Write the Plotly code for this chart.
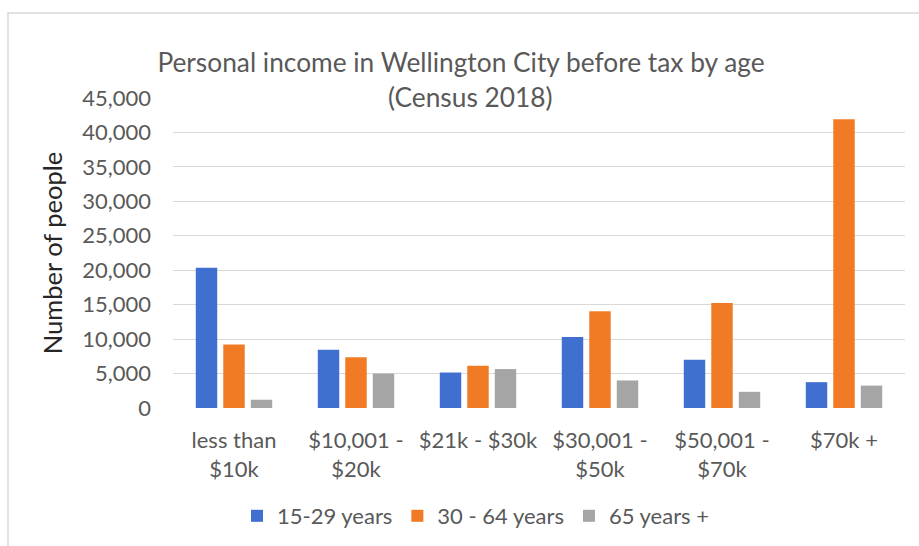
import plotly.graph_objects as go

categories = ["less than $10k", "$10,001 - $20k", "$21k - $30k", "$30,001 - $50k", "$50,001 - $70k", "$70k +"]
tick_labels = ["less than<br>$10k", "$10,001 -<br>$20k", "$21k - $30k", "$30,001 -<br>$50k", "$50,001 -<br>$70k", "$70k +"]
series_names = ["15-29 years", "30 - 64 years", "65 years +"]
age_15_29 = [20350, 8450, 5150, 10300, 7000, 3750]
age_30_64 = [9200, 7350, 6150, 14050, 15250, 41900]
age_65_plus = [1200, 5000, 5650, 4000, 2350, 3250]
colors = ["#3F6FCF", "#F07B24", "#A5A5A5"]

FONT = "Lato"
GRAY = "#595959"

fig = go.Figure()
for name, vals, col in zip(series_names, [age_15_29, age_30_64, age_65_plus], colors):
    fig.add_trace(go.Bar(name=name, x=categories, y=vals, marker=dict(color=col, line=dict(width=0))))

W, H = 919, 546
ml, mr, mt, mb = 173, 14, 98, 138
pw = W - ml - mr
ph = H - mt - mb

fig.update_layout(
    width=W, height=H,
    margin=dict(l=ml, r=mr, t=mt, b=mb, autoexpand=False),
    paper_bgcolor="white", plot_bgcolor="white",
    barmode="group", bargap=0.324, bargroupgap=0.22,
    font=dict(family=FONT, color=GRAY, size=22),
    title=dict(
        text="Personal income in Wellington City before tax by age",
        x=461 / W, xref="container", xanchor="center",
        y=1 - 63 / H, yref="container", yanchor="middle",
        font=dict(family=FONT, size=26.3, color=GRAY),
    ),
    xaxis=dict(
        tickmode="array", tickvals=categories, ticktext=tick_labels,
        showgrid=False, showline=False, zeroline=False, ticks="",
        tickfont=dict(family=FONT, size=22, color=GRAY),
        ticklabelstandoff=17,
    ),
    yaxis=dict(
        range=[0, 45000], tickmode="linear", tick0=0, dtick=5000,
        tickformat=",d", showgrid=True, gridcolor="#D9D9D9", gridwidth=1,
        zeroline=False, showline=False, ticks="",
        tickfont=dict(family=FONT, size=22, color=GRAY),
        ticklabelstandoff=21,
        title=dict(text="Number of people", font=dict(family=FONT, size=25.5, color="#262626"), standoff=12),
    ),
    legend=dict(
        orientation="h", xref="container", yref="container",
        x=476 / W, xanchor="center", y=1 - 516 / H, yanchor="middle",
        font=dict(family=FONT, size=22, color=GRAY),
        itemwidth=30, traceorder="normal", bgcolor="rgba(0,0,0,0)",
    ),
    annotations=[dict(
        text="(Census 2018)", xref="paper", yref="paper",
        x=(470 - ml) / pw, y=(H - mb - 97) / ph, xanchor="center", yanchor="middle",
        showarrow=False, bgcolor="white", borderpad=0,
        font=dict(family=FONT, size=26.3, color=GRAY),
    )],
    shapes=[dict(
        type="rect", xref="paper", yref="paper", layer="below",
        x0=(8 - ml) / pw, x1=(930 - ml) / pw,
        y0=(H - mb - 560) / ph, y1=(H - mb - 13) / ph,
        line=dict(color="#D9D9D9", width=1.5), fillcolor="rgba(0,0,0,0)",
    )],
)

fig.write_html("out.html")
